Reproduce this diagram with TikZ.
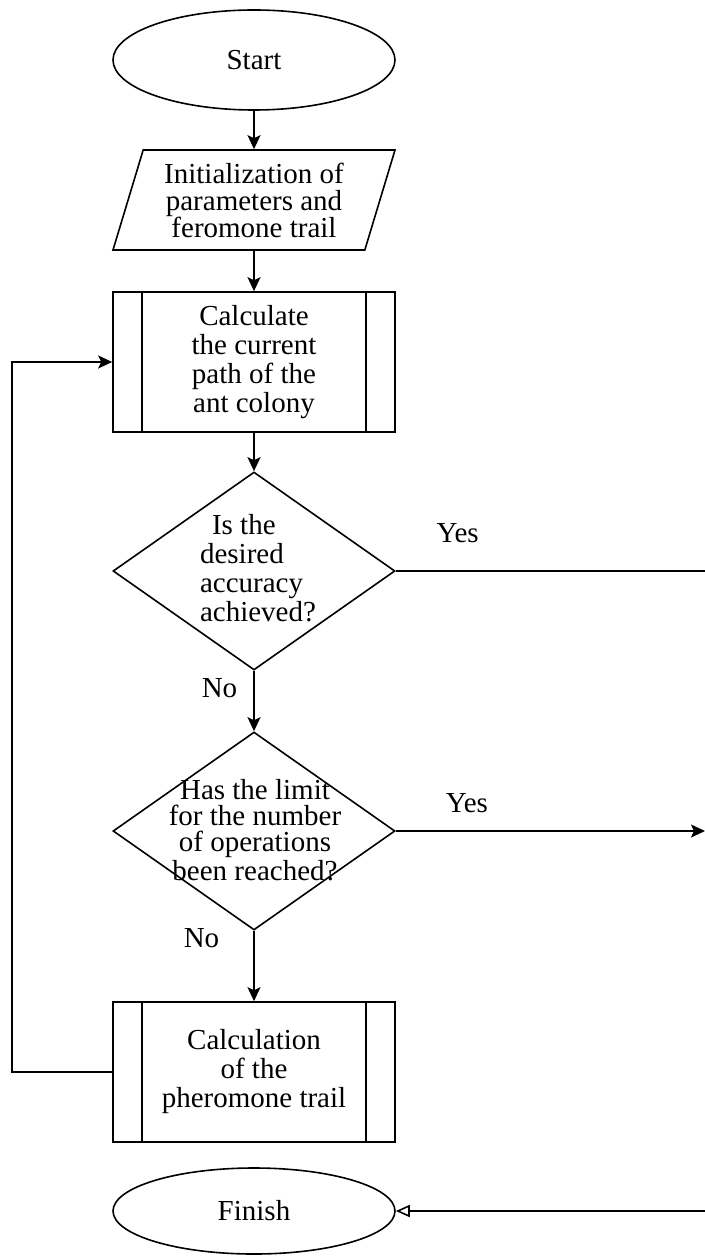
\documentclass[tikz,border=0pt]{standalone}
\usepackage{fontspec}
\setmainfont{Liberation Serif}
\usetikzlibrary{shapes,arrows.meta}

\begin{document}
\begin{tikzpicture}[x=0.5pt,y=-0.5pt,line width=0.8pt,
  every node/.style={font=\fontsize{14.5}{14.5}\selectfont,align=center,inner sep=0pt},
  term/.style={draw,ellipse,minimum width=141pt,minimum height=50pt},
  io/.style={draw,trapezium,trapezium left angle=68,trapezium right angle=112,
    trapezium stretches body,minimum width=141pt,minimum height=50pt},
  subproc/.style={draw,rectangle,minimum width=141pt,minimum height=70pt,
    path picture={\draw ([xshift=14.5pt]path picture bounding box.north west) -- ([xshift=14.5pt]path picture bounding box.south west)
      ([xshift=-14.5pt]path picture bounding box.north east) -- ([xshift=-14.5pt]path picture bounding box.south east);}},
  decision/.style={draw,diamond,minimum width=141pt,minimum height=99pt},
  arr/.style={-{Stealth[length=7pt,width=6.5pt,inset=1.5pt]}}]
\useasboundingbox (0,0) rectangle (705,1256);
\node[term] (start) at (254,60) {Start};
\node[io,font=\fontsize{14.5}{13.5}\selectfont] (init) at (254,200) {Initialization of\\parameters and\\feromone trail};
\node[subproc] (calc) at (254,362) {Calculate\\the current\\path of the\\ant colony};
\node[decision] (acc) at (254,571) {};
\node[align=left] (acctext) at (258,568) {\hspace*{6pt}Is the\\desired\\accuracy\\achieved?};
\node[decision] (lim) at (254,831) {};
\node[font=\fontsize{14.5}{13}\selectfont] (limtext) at (255,830) {Has the limit\\for the number\\of operations\\been reached?};
\node[subproc] (pher) at (254,1072) {Calculation\\of the\\pheromone trail};
\node[term,minimum height=43pt] (finish) at (254,1211) {Finish};
\coordinate (accout) at (705,571);
\coordinate (limout) at (705,831);
\coordinate (finin) at (705,1211);
% main line
\draw[arr] (start) -- (init);
\draw[arr] (init) -- (calc);
\draw[arr] (calc) -- (acc);
\draw[arr] (acc) -- node[pos=.29,left=8pt]{No} (lim);
\draw[arr] (lim) -- node[pos=.11,left=17pt]{No} (pher);
% loop back
\draw[arr] (pher.west) -- ++(-50pt,0) |- (calc.west);
% exits
\draw (acc.east) -- node[pos=.2,above=13.5pt]{Yes} (accout);
\draw[arr] (lim.east) -- node[pos=.23,above=8.5pt]{Yes} (limout);
\draw[-{Triangle[open,length=7pt,width=6pt]}] (finin) -- (finish.east);
\end{tikzpicture}
\end{document}
